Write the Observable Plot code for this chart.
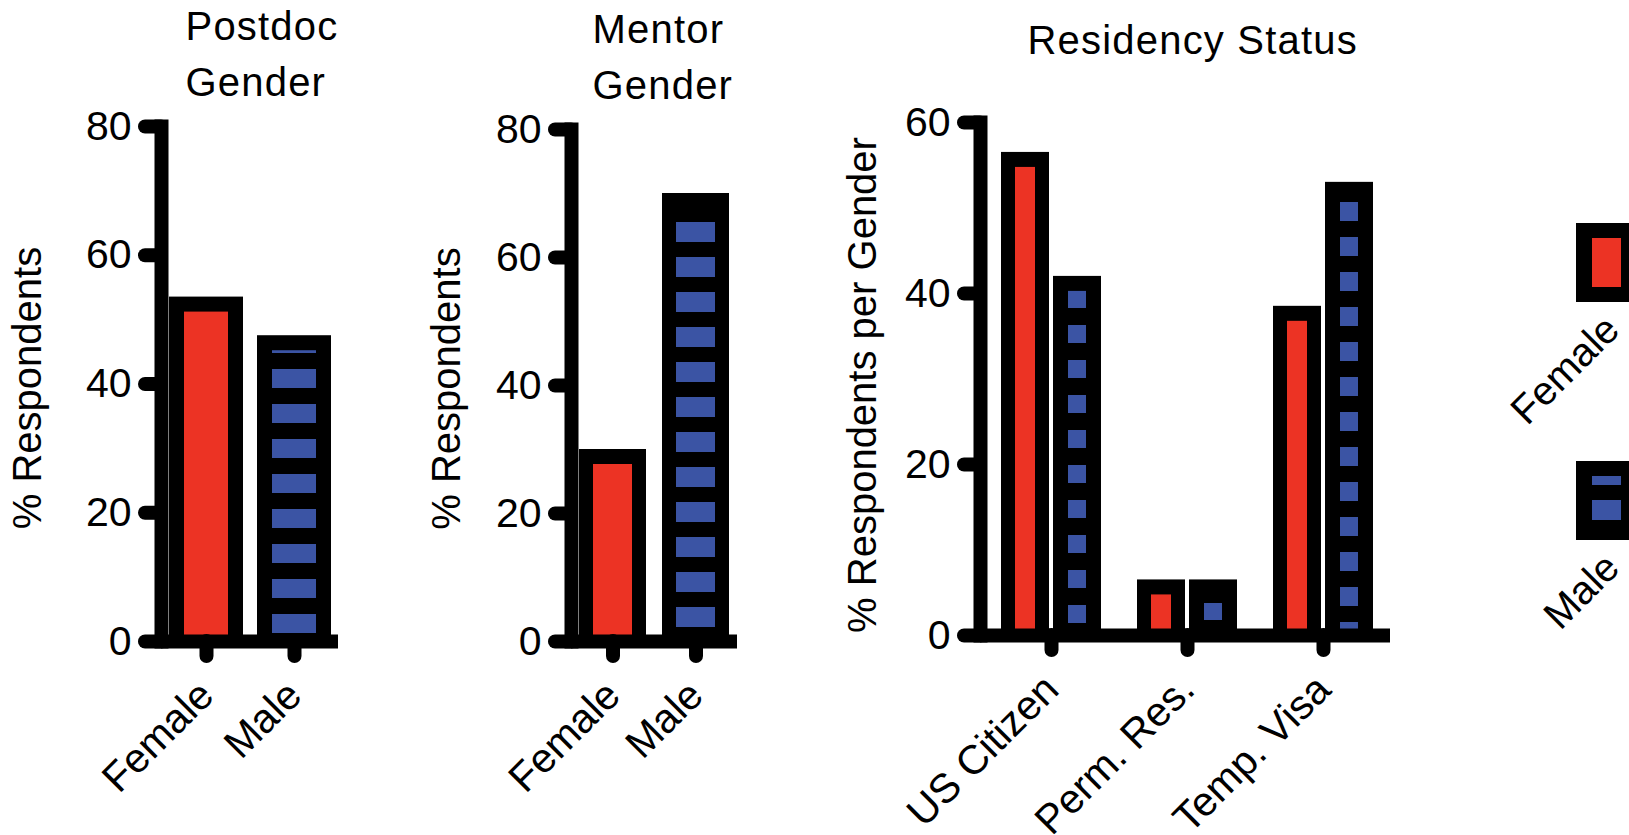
<!DOCTYPE html>
<html>
<head>
<meta charset="utf-8">
<script src="https://cdn.jsdelivr.net/npm/d3@7"></script>
<script src="https://cdn.jsdelivr.net/npm/@observablehq/plot@0.6"></script>
<style>
  html, body { margin: 0; padding: 0; background: #fff; overflow: hidden; }
  #chart { position: relative; width: 1629px; height: 835px; }
  #chart svg { position: absolute; left: 0; top: 0; max-width: none; }
</style>
</head>
<body>
<div id="chart"></div>
<script>
// ---------------- data ----------------
const genders = ["Female", "Male"];
const postdocGender = [53.5, 47.5];          // % respondents
const mentorGender = [30, 70];               // % respondents
const residencyCategories = ["US Citizen", "Perm. Res.", "Temp. Visa"];
const residencyFemale = [56.5, 6.5, 38.5];   // % respondents per gender
const residencyMale = [42, 6.5, 53];
const ticks80 = [0, 20, 40, 60, 80];
const ticks60 = [0, 20, 40, 60];
const titles = ["Postdoc\nGender", "Mentor\nGender", "Residency Status"];
const yLabels = ["% Respondents", "% Respondents", "% Respondents per Gender"];

// ---------------- style ----------------
const RED = "#ec3324", BLUE = "#3b54a4";
const W = 1629, H = 835;
const FONT = "'Liberation Sans', Arial, Helvetica, sans-serif";
const LW = 14;

// stripe patterns (user-space, horizontal bands)
const patterns = [
  {id: "st1", y: 19, period: 35, blue: 19},
  {id: "st2", y: 12, period: 35, blue: 20},
  {id: "st3a", y: 10, period: 35, blue: 18},
  {id: "st3b", y: 8, period: 35, blue: 17},
  {id: "st3c", y: 27, period: 35, blue: 19},
  {id: "stL", y: 10, period: 35, blue: 20}
];
const chart = document.getElementById("chart");
const defs = `<svg width="0" height="0" style="position:absolute;left:0;top:0"><defs>${
  patterns.map(p => `<pattern id="${p.id}" patternUnits="userSpaceOnUse" x="0" y="${p.y}" width="20" height="${p.period}">
    <rect width="20" height="${p.period}" fill="#000"/><rect width="20" height="${p.blue}" fill="${BLUE}"/></pattern>`).join("")
}</defs></svg>`;
chart.insertAdjacentHTML("beforeend", defs);

const baseStyle = {background: "transparent", fontFamily: FONT, color: "#000", overflow: "visible"};

function yAxisMarks(ticks) {
  return [
    Plot.ruleY([0], {strokeWidth: LW}),
    Plot.frame({anchor: "left", strokeWidth: LW, strokeLinecap: "square"}),
    Plot.axisY({ticks, tickSize: 16, tickPadding: 14, strokeWidth: LW, strokeLinecap: "round",
                fontSize: 41, label: null, tickFormat: d => String(d)}),
    Plot.axisX({tickSize: 15, strokeWidth: LW, strokeLinecap: "round", tickRotate: -45,
                textAnchor: "end", lineAnchor: "middle", tickPadding: 32, fontSize: 41, label: null})
  ];
}
function titleMark(t, dx, dy) {
  return Plot.text([t], {text: d => d, frameAnchor: "top-left", textAnchor: "start", lineAnchor: "top",
    lineHeight: 1.4, fontSize: 40, dx, dy});
}
function yLabelMark(t, dx, dy) {
  return Plot.text([t], {text: d => d, frameAnchor: "left", textAnchor: "middle", lineAnchor: "middle",
    rotate: -90, fontSize: 40, dx, dy});
}

function genderPanel(values, pattern, opts) {
  const rows = genders.map((g, i) => ({gender: g, value: values[i]}));
  return Plot.plot({
    width: W, height: H,
    marginLeft: opts.left, marginTop: opts.top, marginBottom: H - opts.bottom, marginRight: W - opts.right,
    style: baseStyle,
    x: {domain: genders, range: opts.xRange, padding: opts.pad, axis: null},
    y: {domain: [0, 80], axis: null},
    color: {domain: genders, range: [RED, `url(#${pattern})`]},
    marks: [
      Plot.rectY(rows, {x: "gender", y: "value", fill: "#000"}),
      Plot.rectY(rows, {x: "gender", y: "value", fill: "gender", insetLeft: opts.b, insetRight: opts.b, insetTop: 15}),
      ...yAxisMarks(ticks80),
      titleMark(opts.title, opts.tdx, opts.tdy),
      yLabelMark(opts.ylabel, opts.ldx, opts.ldy)
    ]
  });
}

try {
  const p1 = genderPanel(postdocGender, "st1", {
    left: 161, top: 126, bottom: 641, right: 338, xRange: [154.5, 346], pad: 0.164, b: 15,
    title: titles[0], tdx: 24, tdy: -126, ylabel: yLabels[0], ldx: -133, ldy: 4
  });
  const p2 = genderPanel(mentorGender, "st2", {
    left: 571, top: 129, bottom: 641, right: 737, xRange: [562.5, 746], pad: 0.198, b: 14,
    title: titles[1], tdx: 21, tdy: -126, ylabel: yLabels[1], ldx: -124, ldy: 3
  });

  // residency panel
  const resRows = residencyCategories.flatMap((c, i) => [
    {cat: c, gender: "Female", value: residencyFemale[i]},
    {cat: c, gender: "Male", value: residencyMale[i]}
  ]);
  const fem = resRows.filter(d => d.gender === "Female");
  const mal = resRows.filter(d => d.gender === "Male");
  const p3 = Plot.plot({
    width: W, height: H,
    marginLeft: 980, marginTop: 122, marginBottom: H - 635, marginRight: W - 1390,
    style: baseStyle,
    x: {domain: residencyCategories, range: [963.6, 1409.5], padding: 0.267, axis: null},
    y: {domain: [0, 60], axis: null},
    color: {domain: residencyCategories, range: ["url(#st3a)", "url(#st3b)", "url(#st3c)"]},
    marks: [
      Plot.rectY(fem, {x: "cat", y: "value", fill: "#000", insetRight: 52}),
      Plot.rectY(mal, {x: "cat", y: "value", fill: "#000", insetLeft: 52}),
      Plot.rectY(fem, {x: "cat", y: "value", fill: RED, insetLeft: 14, insetRight: 66, insetTop: 15}),
      Plot.rectY(mal, {x: "cat", y: "value", fill: "cat", insetLeft: 67, insetRight: 15, insetTop: 15}),
      ...yAxisMarks(ticks60),
      titleMark(titles[2], 47, -108),
      yLabelMark(yLabels[2], -117, 6)
    ]
  });

  // legend
  const legRows = genders.map(g => ({gender: g}));
  const legend = Plot.plot({
    width: W, height: H, margin: 0,
    style: {background: "transparent", fontFamily: FONT, color: "#000"},
    x: {domain: [0, 1], range: [1576, 1637], axis: null},
    y: {type: "band", domain: genders, range: [222, 540], paddingInner: 0.669, paddingOuter: 0, axis: null},
    color: {domain: genders, range: [RED, "url(#stL)"]},
    marks: [
      Plot.barX(legRows, {x1: 0, x2: 1, y: "gender", fill: "#000"}),
      Plot.barX(legRows, {x1: 0, x2: 1, y: "gender", fill: "gender", insetLeft: 16, insetRight: 16, insetTop: 15, insetBottom: 15}),
      Plot.text(legRows, {x: 1, y: "gender", text: "gender", rotate: -45, textAnchor: "end", lineAnchor: "middle",
                          fontSize: 40, dx: -25, dy: 60})
    ]
  });

  const titleLines = new Set(titles.flatMap(t => t.split("\n")));
  [p1, p2, p3, legend].forEach(svg => {
    chart.appendChild(svg);
    svg.querySelectorAll("text, tspan").forEach(t => {
      if (titleLines.has(t.textContent)) t.style.letterSpacing = "1.2px";
    });
  });
} catch (e) {
  document.body.insertAdjacentHTML("beforeend", `<pre style="color:red">${e && e.stack || e}</pre>`);
}
</script>
</body>
</html>
